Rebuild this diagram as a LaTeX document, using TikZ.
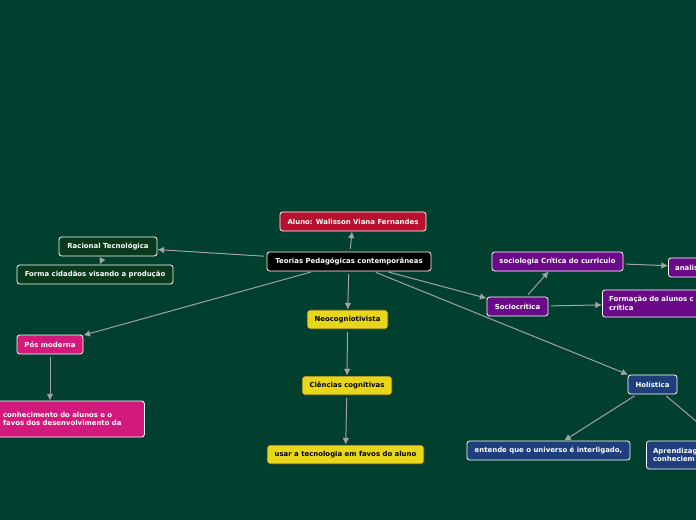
\documentclass[tikz,border=0pt]{standalone}
\usepackage{fontspec}
\setmainfont{DejaVu Sans}
\usetikzlibrary{arrows.meta}

\definecolor{fundo}{HTML}{01402F}
\definecolor{verdeesc}{HTML}{0A3A1B}
\definecolor{vermelho}{HTML}{B8102F}
\definecolor{magenta}{HTML}{D11A7B}
\definecolor{amarelo}{HTML}{E8D61B}
\definecolor{roxo}{HTML}{6B0A89}
\definecolor{azul}{HTML}{1E3F7C}
\definecolor{linha}{HTML}{A3A3A3}

\begin{document}
\begin{tikzpicture}[x=0.75pt, y=-0.75pt,
        caixa/.style={draw=white, line width=0.6pt, rounded corners=2pt, text=white,
            font=\fontsize{5.2}{6.4}\selectfont\bfseries, minimum height=14.25pt, inner xsep=5pt},
        amar/.style={caixa, fill=amarelo, draw=black!80, text=black},
        liga/.style={draw=linha, line width=0.75pt, shorten <=2pt, -{Latex[length=5pt,width=5pt]}}]
        \useasboundingbox (0,0) rectangle (696,520);
        \fill[fundo] (0,0) rectangle (696,520);
        \clip (0,0) rectangle (696,520);

        % centro
        \node[caixa, fill=black, minimum width=123pt] (teorias) at (349,261.5) {Teorias Pedagógicas contemporâneas};
        \node[caixa, fill=vermelho, minimum width=109.5pt] (aluno) at (353,221.5) {Aluno: Walisson Viana Fernandes};

        % racional
        \node[caixa, fill=verdeesc, minimum width=73.5pt] (racional) at (108,246.5) {Racional Tecnológica};
        \node[caixa, fill=verdeesc, minimum width=117pt] (forma) at (95,274.5) {Forma cidadãos visando a produção};

        % pos moderna
        \node[caixa, fill=magenta, minimum width=49.5pt] (pos) at (50,344.5) {Pós moderna};
        \node[caixa, fill=magenta, anchor=west, align=left, text width=101pt, minimum height=27pt] (conhec) at (-4,419)
            {conhecimento do alunos e o\\favos dos desenvolvimento da};

        % neocognitivista
        \node[amar, minimum width=60.75pt] (neocog) at (347.5,319.5) {Neocogniotivista};
        \node[amar, minimum width=67.5pt] (ciencias) at (347,385.5) {Ciências cognitivas};
        \node[amar, minimum width=117.75pt] (usar) at (345.5,454.5) {usar a tecnologia em favos do aluno};

        % sociocritica
        \node[caixa, fill=roxo, minimum width=45.75pt] (socio) at (517.5,306.5) {Sociocrítica};
        \node[caixa, fill=roxo, minimum width=98.25pt] (sociologia) at (557.5,261.5) {sociologia Crítica do curriculo};
        \node[caixa, fill=roxo, anchor=west, align=left, text width=60pt] (analis) at (668,267.5) {analis};
        \node[caixa, fill=roxo, anchor=west, align=left, text width=100pt, minimum height=20.25pt] (formacao) at (602,303.5)
            {Formação de alunos c\\crítica};

        % holistica
        \node[caixa, fill=azul, minimum width=36.75pt] (holistica) at (652.5,384.5) {Holística};
        \node[caixa, fill=azul, minimum width=122.25pt] (entende) at (548.5,450.5) {entende que o universo é interligado,};
        \node[caixa, fill=azul, anchor=west, align=left, text width=125pt, minimum height=21pt] (aprend) at (646,455)
            {Aprendizag\\conheciem};

        \draw[liga] (teorias) -- (aluno);
        \draw[liga] (teorias) -- (racional);
        \draw[liga] (racional) -- (forma);
        \draw[liga] (teorias) -- (pos);
        \draw[liga] (pos.south) -- (pos.south |- conhec.north);
        \draw[liga] (teorias) -- (neocog);
        \draw[liga] (neocog) -- (ciencias);
        \draw[liga] (ciencias) -- (usar);
        \draw[liga] (teorias) -- (socio);
        \draw[liga] (socio) -- (sociologia);
        \draw[liga] (sociologia) -- (analis);
        \draw[liga] (socio) -- (formacao);
        \draw[liga] (teorias) -- (holistica);
        \draw[liga] (holistica) -- (entende);
        \draw[liga] (holistica) -- (aprend);
    \end{tikzpicture}
\end{document}
